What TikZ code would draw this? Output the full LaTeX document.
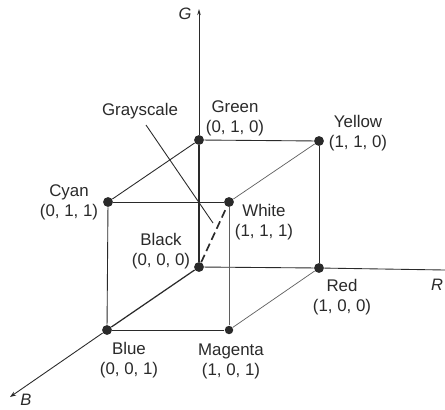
\documentclass[tikz,border=0pt]{standalone}
\usepackage{fontspec}
\setmainfont{Liberation Sans}
\usetikzlibrary{arrows.meta, positioning}
\definecolor{cink}{HTML}{2A2A2A}

\tikzset{
  vertex/.style={circle, fill=cink, inner sep=0pt, minimum size=5.6pt},
  edge/.style={cink, line width=0.5pt},
  faint/.style={cink!75, line width=0.4pt},
  axis/.style={cink, line width=0.5pt},
  lbl/.style={font=\fontsize{9.6}{11.4}\selectfont, text=cink, align=center, inner sep=0pt},
  axlbl/.style={font=\fontsize{9.4}{11}\selectfont\itshape, text=cink, inner sep=0pt}
}

\begin{document}
\begin{tikzpicture}[x=0.02cm, y=-0.02cm]
  \useasboundingbox (0,0) rectangle (445,409);
  \fill[white] (0,0) rectangle (445,409);

  % Cube corners
  \node[vertex] (black) at (199,267) {};
  \node[vertex] (green) at (199,140) {};
  \node[vertex] (yellow) at (319,141) {};
  \node[vertex] (cyan) at (108,202) {};
  \node[vertex] (white) at (229,202) {};
  \node[vertex] (red) at (319,268) {};
  \node[vertex] (blue) at (107,330) {};
  \node[vertex, minimum size=4.8pt] (magenta) at (229,330) {};

  % Free ends of the axes
  \coordinate (gend) at (199,9);
  \coordinate (rend) at (445,270);
  \coordinate (bend) at (10,397);
  \coordinate (gstart) at (146,125);
  \coordinate (gstop) at (213,223);

  % Axes
  \draw[axis, -{Stealth[length=3.5pt, width=2pt]}] (green) -- (gend);
  \draw[axis] (red) -- (rend);
  \draw[axis, -{Stealth[length=3.5pt, width=2.5pt]}] (blue) -- (bend);
  \draw[axis] (black) -- (red);
  \draw[axis, line width=0.7pt] (black) -- (blue);
  \draw[axis, line width=0.7pt] (black) -- (green);

  % Cube edges
  \draw[edge] (green) -- (yellow);
  \draw[edge] (green) -- (cyan);
  \draw[edge] (cyan) -- (white);
  \draw[edge] (cyan) -- (blue);
  \draw[edge] (yellow) -- (red);
  \draw[edge] (blue) -- (magenta);
  \draw[faint] (white) -- (yellow);
  \draw[faint] (white) -- (magenta);
  \draw[faint] (magenta) -- (red);

  % Gray diagonal
  \draw[cink, line width=0.95pt, dash pattern=on 4.6pt off 2.4pt] (black) -- (white);
  \draw[edge] (gstart) -- (gstop);

  % Labels
  \node[lbl] (grayscale) at (140,111) {Grayscale};
  \node[lbl] (greenlbl) at (235,118) {Green\\(0, 1, 0)};
  \node[lbl] (yellowlbl) at (358,133) {Yellow\\(1, 1, 0)};
  \node[lbl] (cyanlbl) at (69,202) {Cyan\\(0, 1, 1)};
  \node[lbl] (whitelbl) at (264,222) {White\\(1, 1, 1)};
  \node[lbl] (blacklbl) at (161,251) {Black\\(0, 0, 0)};
  \node[lbl] (redlbl) at (342,297) {Red\\(1, 0, 0)};
  \node[lbl] (bluelbl) at (129,360) {Blue\\(0, 0, 1)};
  \node[lbl] (magentalbl) at (231,361) {Magenta\\(1, 0, 1)};
  \node[axlbl] (glbl) at (185,14) {G};
  \node[axlbl] (blbl) at (26,400) {B};
  \node[axlbl] (rlbl) at (437,285) {R};
\end{tikzpicture}
\end{document}
